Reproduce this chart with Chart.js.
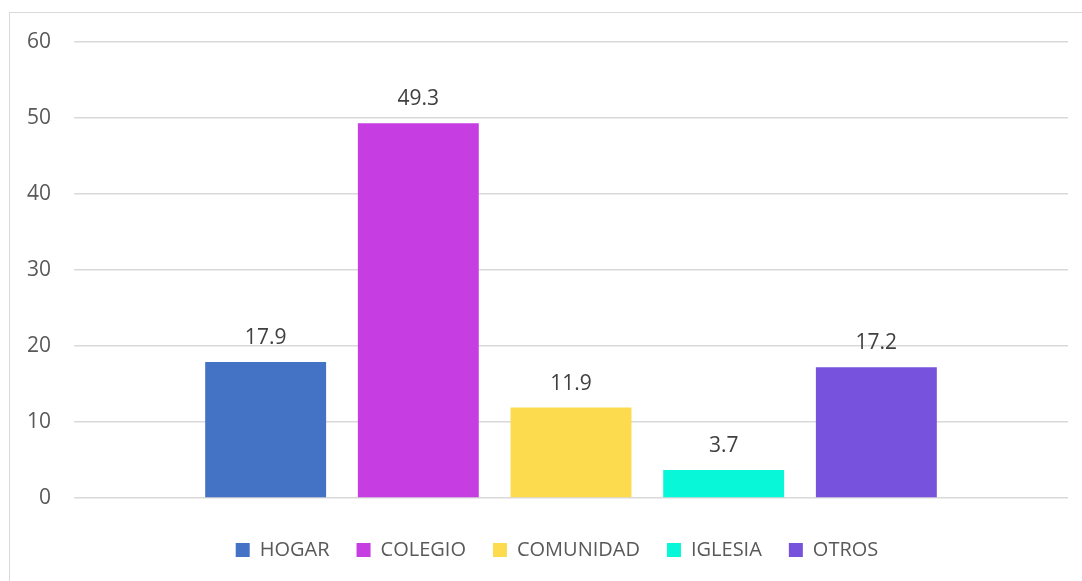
<!DOCTYPE html>
<html>
<head>
<meta charset="utf-8">
<script src="https://cdn.jsdelivr.net/npm/chart.js@4"></script>
<style>
  html, body { margin: 0; padding: 0; background: #fff; overflow: hidden; }
  #frame { position: absolute; left: 9px; top: 12px; width: 1100px; height: 600px; border: 1px solid #d9d9d9; }
  #wrap { position: absolute; left: 0; top: 0; width: 1082px; height: 581px; }
</style>
</head>
<body>
<div id="frame"></div>
<div id="wrap"><canvas id="chart"></canvas></div>
<script>
// values
const categories = ['HOGAR', 'COLEGIO', 'COMUNIDAD', 'IGLESIA', 'OTROS'];
const values = [17.9, 49.3, 11.9, 3.7, 17.2];
const colors = ['#4472C4', '#C63DE2', '#FCDB4E', '#08F7D8', '#7752DC'];
const yTicks = [0, 10, 20, 30, 40, 50, 60];

// one dataset per category so the legend shows each one
const datasets = categories.map((name, i) => ({
    label: name,
    data: [values[i]],
    backgroundColor: colors[i],
    borderWidth: 0,
    categoryPercentage: 0.768,
    barPercentage: 0.792
}));

// draws the value above each bar
const valueLabels = {
    id: 'valueLabels',
    afterDatasetsDraw(chart) {
        const ctx = chart.ctx;
        ctx.save();
        ctx.font = '21px "Open Sans"';
        ctx.fillStyle = '#404040';
        ctx.textAlign = 'center';
        ctx.textBaseline = 'alphabetic';
        chart.data.datasets.forEach((ds, i) => {
            chart.getDatasetMeta(i).data.forEach((bar, j) => {
                ctx.fillText(ds.data[j].toFixed(1), bar.x, bar.y - 18);
            });
        });
        ctx.restore();
    }
};

// the legend sits centred under the plot area, not the whole canvas
const legendShift = {
    id: 'legendShift',
    afterLayout(chart) {
        chart.legend.left += 23;
        chart.legend.right += 23;
    }
};

new Chart(document.getElementById('chart'), {
    type: 'bar',
    data: { labels: [''], datasets: datasets },
    plugins: [valueLabels, legendShift],
    options: {
        responsive: true,
        maintainAspectRatio: false,
        animation: false,
        layout: { padding: { top: 42, right: 14, bottom: 11, left: 0 } },
        plugins: {
            tooltip: { enabled: false },
            legend: {
                position: 'bottom',
                labels: {
                    boxWidth: 14,
                    boxHeight: 14,
                    padding: 27,
                    color: '#595959',
                    font: { family: 'Open Sans', size: 20 }
                }
            }
        },
        scales: {
            x: {
                ticks: { display: false },
                grid: { display: false },
                border: { display: false },
                afterFit: s => { s.height = 15; }
            },
            y: {
                min: 0,
                max: 60,
                afterBuildTicks: s => { s.ticks = yTicks.map(v => ({ value: v })); },
                afterFit: s => { s.width = 74; },
                ticks: {
                    padding: 23,
                    color: '#595959',
                    font: { family: 'Open Sans', size: 21 }
                },
                grid: { color: '#d9d9d9', lineWidth: 1.5, drawTicks: false },
                border: { display: false }
            }
        }
    }
});
</script>
</body>
</html>
